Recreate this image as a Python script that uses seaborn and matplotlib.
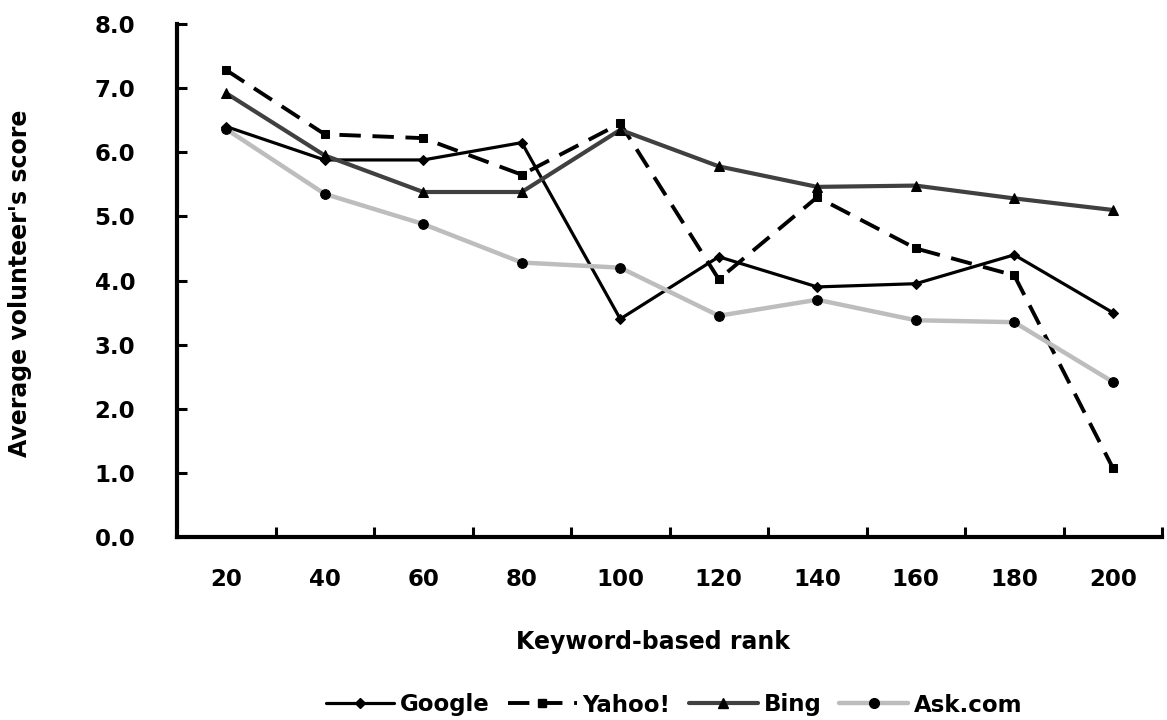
import numpy as np
import pandas as pd
import matplotlib
matplotlib.use("Agg")
import matplotlib.pyplot as plt
import seaborn as sns
from matplotlib.lines import Line2D

ranks = [20, 40, 60, 80, 100, 120, 140, 160, 180, 200]
google = [6.40, 5.88, 5.88, 6.15, 3.40, 4.37, 3.90, 3.95, 4.40, 3.50]
yahoo = [7.28, 6.28, 6.22, 5.65, 6.45, 4.02, 5.30, 4.50, 4.08, 1.08]
bing = [6.92, 5.95, 5.38, 5.38, 6.35, 5.78, 5.46, 5.48, 5.28, 5.10]
ask = [6.36, 5.35, 4.88, 4.28, 4.20, 3.45, 3.70, 3.38, 3.35, 2.42]
engines = ["Google", "Yahoo!", "Bing", "Ask.com"]
yticks = [0, 1, 2, 3, 4, 5, 6, 7, 8]

sns.set_theme(style="white")
plt.rcParams["font.family"] = ["DejaVu Sans"]
plt.rcParams["font.weight"] = "bold"
plt.rcParams["text.color"] = "black"
plt.rcParams["xtick.color"] = "black"
plt.rcParams["ytick.color"] = "black"
plt.rcParams["axes.labelcolor"] = "black"

rows = []
for name, vals in zip(engines, [google, yahoo, bing, ask]):
    for i, (r, v) in enumerate(zip(ranks, vals)):
        rows.append({"engine": name, "pos": i, "rank": r, "score": v})
df = pd.DataFrame(rows)

styles = {
    "Google": dict(color="#000000", lw=2.3, marker="D", ms=5, ls="-"),
    "Yahoo!": dict(color="#000000", lw=2.8, marker="s", ms=6, ls=(0, (5.5, 3))),
    "Bing": dict(color="#404040", lw=3.0, marker="^", ms=7, ls="-"),
    "Ask.com": dict(color="#bdbdbd", lw=3.2, marker="o", ms=7, ls="-"),
}

fig = plt.figure(figsize=(11.67, 7.2), dpi=100)
ax = fig.add_axes([177/1167, 1-537/720, (1162-177)/1167, (537-24)/720])

for name in engines:
    s = styles[name]
    sub = df[df["engine"] == name]
    sns.lineplot(data=sub, x="pos", y="score", ax=ax, color=s["color"],
                 linewidth=s["lw"], marker=s["marker"], markersize=s["ms"],
                 markerfacecolor="black", markeredgecolor="black",
                 linestyle=s["ls"], legend=False)

ax.set_xlim(-0.5, 9.5)
ax.set_ylim(0, 8)
ax.set_yticks(yticks)
ax.set_yticklabels([f"{v:.1f}" for v in yticks], fontsize=16.5, fontweight="bold", color="black")
ax.set_xticks(range(len(ranks)))
ax.set_xticklabels([str(r) for r in ranks], fontsize=16.5, fontweight="bold", color="black")
ax.set_xticks(np.arange(0.5, 10, 1.0), minor=True)
ax.tick_params(axis="x", which="major", length=0, pad=22)
ax.tick_params(axis="x", which="minor", direction="in", length=7, width=2.2, color="black", bottom=True)
ax.tick_params(axis="y", which="major", direction="in", length=7, width=2.2, color="black", left=True, pad=30)

for side in ["top", "right"]:
    ax.spines[side].set_visible(False)
for side in ["left", "bottom"]:
    ax.spines[side].set_color("black")
    ax.spines[side].set_linewidth(3)

ax.set_xlabel("")
ax.set_ylabel("")
fig.text(653/1167, 1-642/720, "Keyword-based rank", ha="center", va="center",
         fontsize=17, fontweight="bold", color="black")
fig.text(20/1167, 1-283/720, "Average volunteer's score", ha="center", va="center",
         rotation=90, fontsize=17, fontweight="bold", color="black")

handles = []
for name in engines:
    s = styles[name]
    handles.append(Line2D([0], [0], color=s["color"], lw=s["lw"], marker=s["marker"],
                          markersize=s["ms"], markerfacecolor="black", markeredgecolor="black",
                          linestyle=s["ls"]))
fig.legend(handles, engines, loc="center", bbox_to_anchor=(674/1167, 1-705/720), ncol=4,
           frameon=False, prop={"size": 16.5, "weight": "bold"}, handlelength=3.0,
           handletextpad=0.25, columnspacing=0.8, labelcolor="black")

ax.set_facecolor("white")
fig.patch.set_facecolor("white")
fig.savefig("out.png", dpi=100)
